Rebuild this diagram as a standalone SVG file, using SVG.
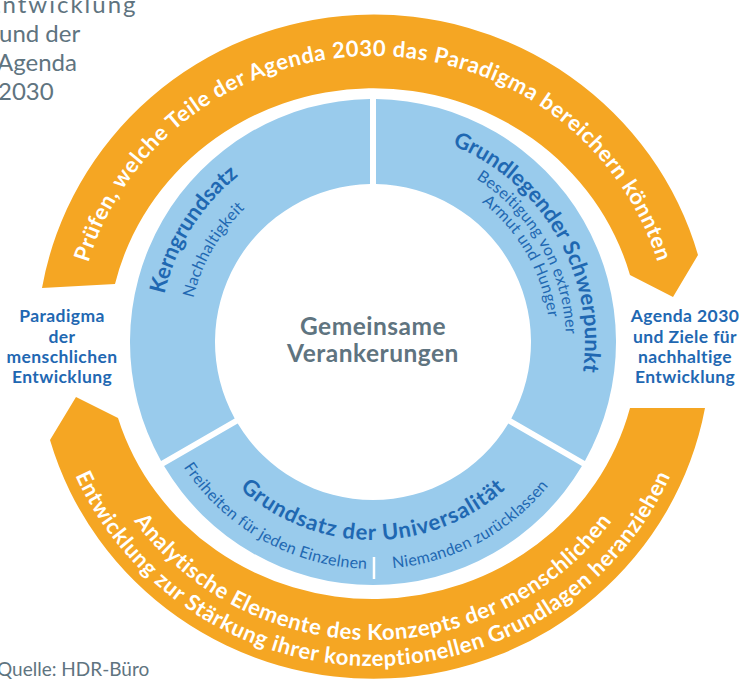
<svg xmlns="http://www.w3.org/2000/svg" width="741" height="679" viewBox="0 0 741 679">
  <style>
    .band { fill: #F5A623; }
    .seg { fill: #99CBEC; }
    .band-text { font-family: Lato, "Open Sans", sans-serif; font-weight: 700; font-size: 22px; letter-spacing: 0.6px; fill: #FFFFFF; }
    .seg-title { font-family: Lato, "Open Sans", sans-serif; font-weight: 700; font-size: 22px; fill: #1F68B2; }
    .seg-sub { font-family: Lato, "Open Sans", sans-serif; font-weight: 400; font-size: 16px; letter-spacing: 0.3px; fill: #1F68B2; }
    .side { font-family: Lato, "Open Sans", sans-serif; font-weight: 700; font-size: 17.5px; letter-spacing: 0.4px; fill: #1F68B2; text-anchor: middle; }
    .grey { font-family: Lato, "Open Sans", sans-serif; fill: #5F7480; }
  </style>
  <defs>
    <!-- baselines for the curved band labels -->
    <path id="p-top" d="M77.13,319.81 A297,289 0 0 1 668.87,319.81"/>
    <path id="p-bot1" d="M76.13,369.8 A298,296 0 0 0 669.87,369.8"/>
    <path id="p-bot2" d="M48.24,372.06 A326,322 0 0 0 697.76,372.06"/>
    <!-- baselines inside the ring segments -->
    <path id="p-kern" d="M184.05,442.47 A214,214 0 0 1 380.47,128.13"/>
    <path id="p-nach" d="M212.79,434.5 A185,185 0 0 1 373,157"/>
    <path id="p-grund" d="M373,130 A212,212 0 0 1 556.6,448"/>
    <path id="p-bes" d="M373,149 A193,193 0 0 1 540.14,438.5"/>
    <path id="p-arm" d="M373,165 A177,177 0 0 1 526.29,430.5"/>
    <path id="p-univ" d="M201.53,441 A198,198 0 0 0 544.47,441"/>
    <path id="p-frei" d="M149.45,381.42 A227,227 0 0 0 367.06,568.92"/>
    <path id="p-niem" d="M392.78,568.14 A227,227 0 0 0 596.55,381.42"/>
  </defs>

  <!-- clipped heading and source line -->
  <g id="heading" class="grey" font-size="24px">
    <text x="-13" y="13" letter-spacing="2px">Entwicklung</text>
    <text x="-1" y="42">und der</text>
    <text x="-3" y="71">Agenda</text>
    <text x="-2" y="100">2030</text>
  </g>
  <text id="source" class="grey" x="-3" y="676" font-size="19px">Quelle: HDR-Büro</text>

  <!-- outer orange bands -->
  <g id="band-top">
    <path class="band" d="M42,288 A337,331 0 0 1 698,255 L673,297 L630,275 A266,255 0 0 0 115,284 Z"/>
    <text class="band-text"><textPath href="#p-top" startOffset="50%" text-anchor="middle">Prüfen, welche Teile der Agenda 2030 das Paradigma bereichern könnten</textPath></text>
  </g>
  <g id="band-bottom">
    <path class="band" d="M705,408 A337,331 0 0 1 50,440 L76,397 L118,418 A266,255 0 0 0 630,408 Z"/>
    <text class="band-text"><textPath href="#p-bot1" startOffset="50%" text-anchor="middle">Analytische Elemente des Konzepts der menschlichen</textPath></text>
    <text class="band-text"><textPath href="#p-bot2" startOffset="50%" text-anchor="middle">Entwicklung zur Stärkung ihrer konzeptionellen Grundlagen heranziehen</textPath></text>
  </g>

  <!-- side labels -->
  <g id="label-left" class="side">
    <text x="62" y="322">Paradigma</text>
    <text x="62" y="343">der</text>
    <text x="62" y="363">menschlichen</text>
    <text x="62" y="383">Entwicklung</text>
  </g>
  <g id="label-right" class="side">
    <text x="685" y="322">Agenda 2030</text>
    <text x="685" y="343">und Ziele für</text>
    <text x="685" y="363">nachhaltige</text>
    <text x="685" y="383">Entwicklung</text>
  </g>

  <!-- ring segments -->
  <g id="seg-kern">
    <path class="seg" d="M161.07,460.9 A243,243 0 0 1 370,99.02 L370,184.03 A158,158 0 0 0 234.69,418.39 Z"/>
    <text class="seg-title"><textPath href="#p-kern" startOffset="50%" text-anchor="middle">Kerngrundsatz</textPath></text>
    <text class="seg-sub"><textPath href="#p-nach" startOffset="50%" text-anchor="middle">Nachhaltigkeit</textPath></text>
  </g>
  <g id="seg-grund">
    <path class="seg" d="M376,99.02 A243,243 0 0 1 584.93,460.9 L511.31,418.39 A158,158 0 0 0 376,184.03 Z"/>
    <text class="seg-title"><textPath href="#p-grund" startOffset="50%" text-anchor="middle">Grundlegender Schwerpunkt</textPath></text>
    <text class="seg-sub"><textPath href="#p-bes" startOffset="50%" text-anchor="middle">Beseitigung von extremer</textPath></text>
    <text class="seg-sub"><textPath href="#p-arm" startOffset="50%" text-anchor="middle">Armut und Hunger</textPath></text>
  </g>
  <g id="seg-univ">
    <path class="seg" d="M581.92,466.09 A243,243 0 0 1 164.08,466.09 L237.69,423.58 A158,158 0 0 0 508.31,423.58 Z"/>
    <text class="seg-title" font-size="23px" letter-spacing="0.9px"><textPath href="#p-univ" startOffset="50%" text-anchor="middle">Grundsatz der Universalität</textPath></text>
    <text class="seg-sub"><textPath href="#p-frei" startOffset="100%" text-anchor="end">Freiheiten für jeden Einzelnen</textPath></text>
    <text class="seg-sub"><textPath href="#p-niem" startOffset="0%">Niemanden zurücklassen</textPath></text>
    <line x1="374" y1="557" x2="374" y2="579" stroke="#FFFFFF" stroke-width="2.5"/>
  </g>

  <!-- centre -->
  <g id="centre" class="grey" font-weight="700" font-size="24.5px" letter-spacing="0.5px" text-anchor="middle">
    <text x="373" y="335">Gemeinsame</text>
    <text x="373" y="362">Verankerungen</text>
  </g>
</svg>
